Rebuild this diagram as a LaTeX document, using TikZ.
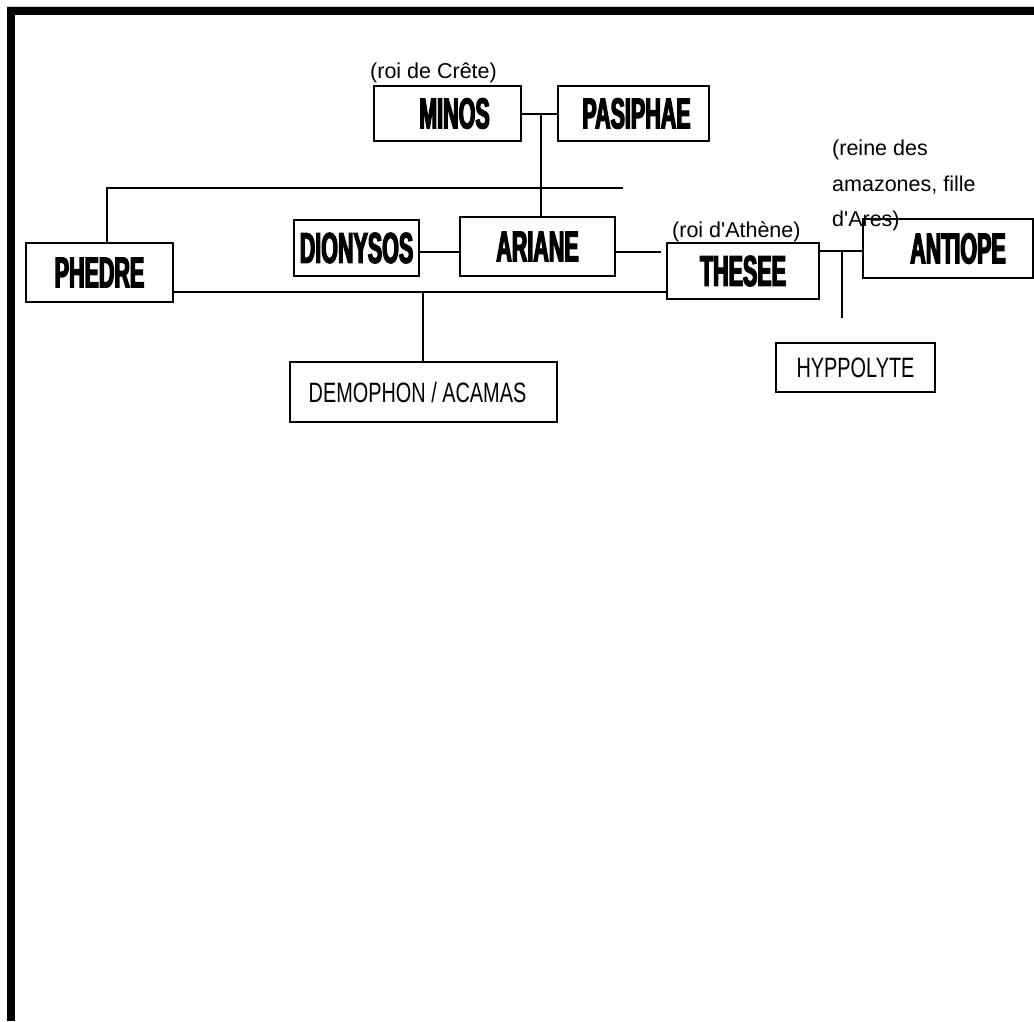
\documentclass[tikz,border=0pt]{standalone}
\usepackage{fontspec}
\setmainfont{Liberation Sans}
\newfontfamily\namefont[FakeStretch=0.5,FakeBold=3]{Liberation Sans}
\newfontfamily\boxfont[FakeStretch=0.71]{Liberation Sans}
\newfontfamily\annfont{Liberation Sans}
\usetikzlibrary{calc}
\begin{document}
\begin{tikzpicture}[x=1pt,y=-1pt,
  namebox/.style={draw, line width=2pt, inner sep=0pt, fill=white,
    font={\namefont\bfseries\fontsize{43}{43}\selectfont}},
  plainbox/.style={draw, line width=2pt, inner sep=0pt, fill=white,
    font={\boxfont\fontsize{28}{30}\selectfont}},
  annot/.style={inner sep=0pt, anchor=base west, font={\annfont\fontsize{21.5}{24}\selectfont}},
  conn/.style={line width=2pt}]
\useasboundingbox (0,0) rectangle (1034,1021);
% frame
\draw[gray!40, line width=1pt] (7,6) -- (1034,6);
\fill[black] (7,7) rectangle (1034,15);
\fill[black] (7,7) rectangle (15,1021);

% junction coordinates
\coordinate (hl) at (107,188);
\coordinate (hr) at (623,188);
\coordinate (pm) at (423,292);
\coordinate (ath) at (661,252);
\coordinate (tj) at (842,251);
\coordinate (tb) at (842,318);
\coordinate (mj) at (541,114);

% boxes
\node[namebox, minimum width=147pt, minimum height=55pt] (minos) at (447.5,113.5) {\raisebox{-3pt}{\hspace{14pt}MINOS}};
\node[namebox, minimum width=151pt, minimum height=55pt] (pasiphae) at (633.5,113.5) {\raisebox{-5pt}{\hspace{6pt}PASIPHAE}};
\node[namebox, minimum width=147pt, minimum height=59pt] (phedre) at (99.5,272.5) {PHEDRE};
\node[namebox, minimum width=125pt, minimum height=56pt] (dionysos) at (356.5,248) {DIONYSOS};
\node[namebox, minimum width=155pt, minimum height=59pt] (ariane) at (537.5,246.5) {ARIANE};
\node[namebox, minimum width=152pt, minimum height=56pt] (thesee) at (743,271) {\raisebox{-2pt}{THESEE}};
\node[namebox, minimum width=170pt, minimum height=59pt] (antiope) at (948,248.5) {\raisebox{-3pt}{\hspace{20pt}ANTIOPE}};
\node[plainbox, minimum width=159pt, minimum height=49pt] (hyppolyte) at (855.5,367.5) {HYPPOLYTE};
\node[plainbox, minimum width=267pt, minimum height=60pt] (demophon) at (423.5,392) {\raisebox{-5pt}{DEMOPHON / ACAMAS\hspace{12pt}}};

% connectors
\draw[conn] (minos.east) -- (pasiphae.west);
\draw[conn] (mj) -- (mj |- ariane.north);
\draw[conn] (hr) -- (hl) -- (hl |- phedre.north);
\draw[conn] (pm -| phedre.east) -- (pm) -- (pm -| thesee.west);
\draw[conn] (pm) -- (pm |- demophon.north);
\draw[conn] (dionysos.east |- ath) -- (ariane.west |- ath);
\draw[conn] (ariane.east |- ath) -- (ath);
\draw[conn] (tj -| thesee.east) -- (tj -| antiope.west);
\draw[conn] (tj) -- (tb);

% annotations
\node[annot] (crete) at (370,78) {(roi de Crête)};
\node[annot] (athene) at (672,237) {(roi d'Athène)};
\node[annot] (reine1) at (832,155) {(reine des};
\node[annot] (reine2) at (832,191) {amazones, fille};
\node[annot] (reine3) at (832,226) {d'Ares)};
\end{tikzpicture}
\end{document}
